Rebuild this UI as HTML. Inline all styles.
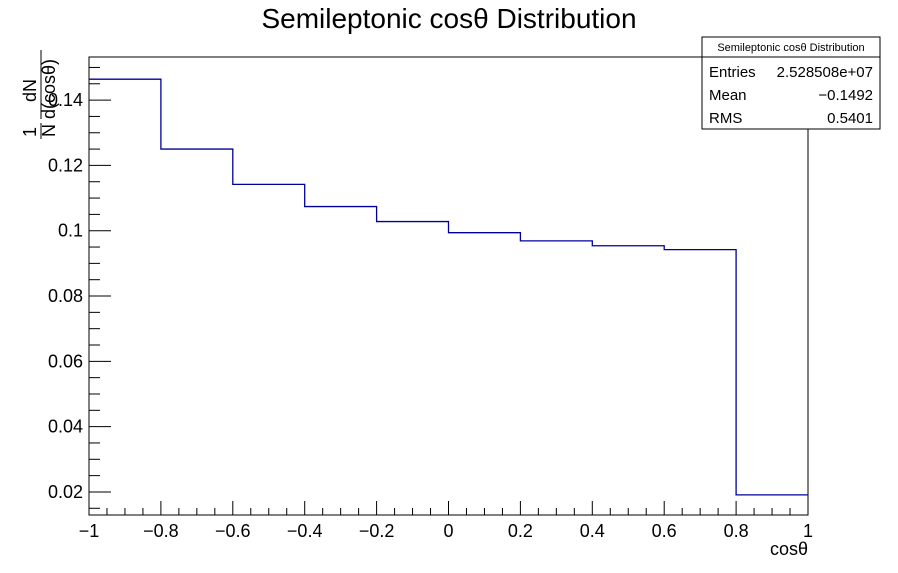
<!DOCTYPE html>
<html><head><meta charset="utf-8"><style>
body{margin:0;background:#fff}
svg{display:block;font-family:"Liberation Sans",sans-serif}
</style></head><body>
<svg width="898" height="573" viewBox="0 0 898 573">
<text x="449" y="28" font-size="28" text-anchor="middle">Semileptonic cosθ Distribution</text>
<rect x="89" y="57" width="719" height="458" fill="none" stroke="#000" stroke-width="1"/>
<g id="ticks"></g>
<g id="hist"></g>
<text x="808" y="555" font-size="18" text-anchor="end">cosθ</text>
<g transform="translate(36,137) rotate(-90)">
<text x="0" y="0" font-size="18">1</text>
<line x1="-2" y1="5" x2="14" y2="5" stroke="#000"/>
<text x="0" y="19" font-size="18">N</text>
<text x="35" y="0" font-size="18">dN</text>
<line x1="18" y1="5" x2="87" y2="5" stroke="#000"/>
<text x="18" y="19" font-size="18">d(cosθ)</text>
</g>
<g>
<rect x="702" y="37" width="178" height="92" fill="#fff" stroke="#000"/>
<line x1="702" y1="57" x2="880" y2="57" stroke="#000"/>
<text x="791" y="51" font-size="11" text-anchor="middle">Semileptonic cosθ Distribution</text>
<text x="709" y="77" font-size="15">Entries</text><text x="873" y="77" font-size="15" text-anchor="end">2.528508e+07</text>
<text x="709" y="100" font-size="15">Mean</text><text x="873" y="100" font-size="15" text-anchor="end">−0.1492</text>
<text x="709" y="123" font-size="15">RMS</text><text x="873" y="123" font-size="15" text-anchor="end">0.5401</text>
</g>
</svg>
<script>
const binEdges=[-1,-0.8,-0.6,-0.4,-0.2,0,0.2,0.4,0.6,0.8,1];
const binValues=[0.1464,0.1250,0.1142,0.1074,0.1028,0.0994,0.0969,0.0954,0.0942,0.0191];
const xTicks=[-1,-0.8,-0.6,-0.4,-0.2,0,0.2,0.4,0.6,0.8,1];
const xTickLabels=["−1","−0.8","−0.6","−0.4","−0.2","0","0.2","0.4","0.6","0.8","1"];
const yTicks=[0.02,0.04,0.06,0.08,0.1,0.12,0.14];
const yTickLabels=["0.02","0.04","0.06","0.08","0.1","0.12","0.14"];
const NS="http://www.w3.org/2000/svg";
const X0=89,X1=808,Y0=515,Y1=57,xmin=-1,xmax=1,ymin=0.01294,ymax=0.1532;
const sx=v=>X0+(v-xmin)/(xmax-xmin)*(X1-X0);
const sy=v=>Y0-(v-ymin)/(ymax-ymin)*(Y0-Y1);
const tg=document.getElementById('ticks');
function ln(x1,y1,x2,y2,c){const l=document.createElementNS(NS,'line');l.setAttribute('x1',x1);l.setAttribute('y1',y1);l.setAttribute('x2',x2);l.setAttribute('y2',y2);l.setAttribute('stroke',c||'#000');return l;}
function tx(x,y,s,a){const t=document.createElementNS(NS,'text');t.setAttribute('x',x);t.setAttribute('y',y);t.setAttribute('font-size','18');t.setAttribute('text-anchor',a);t.textContent=s;return t;}
xTicks.forEach((v,i)=>{const l=ln(sx(v),Y0,sx(v),Y0-14);


tg.appendChild(l);
const t=tx(sx(v),537,xTickLabels[i],'middle');


tg.appendChild(t);});
for(let v=-1;v<1-1e-9;v+=0.05){if(Math.abs(Math.round(v*5)-v*5)>1e-6){const l=ln(sx(v),Y0,sx(v),Y0-7);


tg.appendChild(l);}}
yTicks.forEach((v,i)=>{const l=ln(X0,sy(v),X0+22,sy(v));


tg.appendChild(l);
const t=tx(83,sy(v)+6,yTickLabels[i],'end');


tg.appendChild(t);});
for(let k=3;k<=30;k++){const v=k*0.005;if(k%4===0)continue;if(v<ymin||v>ymax)continue;const l=ln(X0,sy(v),X0+11,sy(v));


tg.appendChild(l);}
let d='M'+sx(binEdges[0])+','+sy(binValues[0]);
binValues.forEach((v,i)=>{d+=' L'+sx(binEdges[i])+','+sy(v)+' L'+sx(binEdges[i+1])+','+sy(v);});
const p=document.createElementNS(NS,'path');p.setAttribute('d',d);p.setAttribute('fill','none');p.setAttribute('stroke','#000099');p.setAttribute('stroke-width','1.3');


document.getElementById('hist').appendChild(p);
</script>
</body></html>
